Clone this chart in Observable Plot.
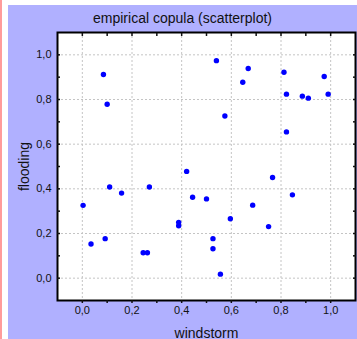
<!DOCTYPE html>
<html><head><meta charset="utf-8">
<script src="https://cdn.jsdelivr.net/npm/d3@7"></script>
<script src="https://cdn.jsdelivr.net/npm/@observablehq/plot@0.6"></script>
<style>
body{margin:0;background:#fff;}
#wrap{position:relative;width:357px;height:339px;overflow:hidden;font-family:"Liberation Sans",Arial,sans-serif;}
#pink{position:absolute;left:0;top:0;width:1.5px;height:339px;background:#ff9c9c;}
#bg{position:absolute;left:8px;top:5px;width:349px;height:334px;background:#b0b0ff;}
#title{position:absolute;left:8px;top:10px;width:349px;text-align:center;font-size:14px;line-height:16px;color:#111;}
#chart{position:absolute;left:8px;top:5px;}
</style></head><body>
<div id="wrap"><div id="pink"></div><div id="bg"></div><div id="chart"></div><div id="title">empirical copula (scatterplot)</div></div>
<script>
const windstorm = [0.003, 0.035, 0.085, 0.10, 0.092, 0.11, 0.158, 0.27, 0.245, 0.262, 0.388, 0.388, 0.42, 0.444, 0.50, 0.574, 0.54, 0.596, 0.526, 0.526, 0.556, 0.686, 0.75, 0.646, 0.668, 0.766, 0.812, 0.822, 0.822, 0.846, 0.886, 0.91, 0.974, 0.99];
const flooding = [0.326, 0.153, 0.912, 0.779, 0.177, 0.408, 0.381, 0.408, 0.114, 0.114, 0.25, 0.235, 0.478, 0.362, 0.355, 0.726, 0.974, 0.266, 0.177, 0.132, 0.018, 0.327, 0.231, 0.877, 0.939, 0.451, 0.922, 0.824, 0.655, 0.373, 0.815, 0.806, 0.903, 0.824];
const majorTicks = [0, 0.2, 0.4, 0.6, 0.8, 1.0];
const allTicks = [0, 0.1, 0.2, 0.3, 0.4, 0.5, 0.6, 0.7, 0.8, 0.9, 1.0];
const fmt = d => d.toFixed(1).replace(".", ",");

const data = windstorm.map((w, i) => ({windstorm: w, flooding: flooding[i]}));
const gridStyle = {stroke: "#c4c4c4", strokeOpacity: 1, strokeDasharray: "2,2", strokeWidth: 1};
const plot = Plot.plot({
  width: 349, height: 334,
  marginLeft: 49, marginRight: 2, marginTop: 27, marginBottom: 39,
  style: {background: "transparent", fontFamily: "Liberation Sans, Arial, sans-serif", color: "#111"},
  x: {domain: [-0.1, 1.1]},
  y: {domain: [-0.1, 1.1]},
  marks: [
    Plot.frame({fill: "white"}),
    Plot.gridX(majorTicks, gridStyle),
    Plot.gridY(majorTicks, gridStyle),
    Plot.dot(data, {x: "windstorm", y: "flooding", r: 2.7, fill: "#0000ff"}),
    Plot.frame({stroke: "black", strokeWidth: 2}),
    Plot.axisX(allTicks, {anchor: "bottom", tickSize: 3, text: null, label: null, strokeWidth: 1.5}),
    Plot.axisX(allTicks, {anchor: "top", tickSize: 3, dy: 3, text: null, label: null, strokeWidth: 1.5}),
    Plot.axisY(allTicks, {anchor: "left", tickSize: 3, dx: 3, text: null, label: null, strokeWidth: 1.5}),
    Plot.axisY(allTicks, {anchor: "right", tickSize: 3, dx: -3, text: null, label: null, strokeWidth: 1.5}),
    Plot.axisX(majorTicks, {anchor: "bottom", tickSize: 0, tickPadding: 6, tickFormat: fmt, fontSize: 11, label: null}),
    Plot.axisY(majorTicks, {anchor: "left", tickSize: 0, tickPadding: 6, tickFormat: fmt, fontSize: 11, label: null}),
    Plot.axisX([], {anchor: "bottom", label: "windstorm", labelAnchor: "center", labelArrow: "none", labelOffset: 37, fontSize: 14}),
    Plot.axisY([], {anchor: "left", label: "flooding", labelAnchor: "center", labelArrow: "none", labelOffset: 38, fontSize: 14})
  ]
});
document.getElementById("chart").appendChild(plot);
</script>
</body></html>
